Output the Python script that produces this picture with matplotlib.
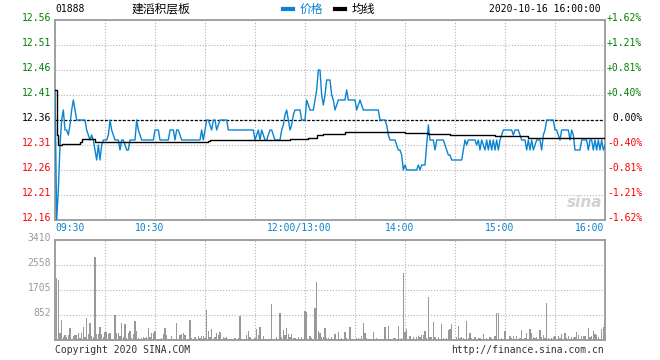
import matplotlib
matplotlib.use("Agg")
import numpy as np
import matplotlib.pyplot as plt
import matplotlib.transforms as mtransforms
from matplotlib.lines import Line2D

# --- data (minute index 0 = 09:30, 330 = 16:00, lunch break removed) ---
code = "01888"
name = "建滔积层板"
stamp = "2020-10-16 16:00:00"
prev_close = 12.36

price = [
    12.42, 12.16, 12.22, 12.31, 12.36, 12.38, 12.34, 12.34, 12.33, 12.35,
    12.38, 12.40, 12.38, 12.36, 12.36, 12.36, 12.36, 12.36, 12.36, 12.34,
    12.33, 12.32, 12.33, 12.32, 12.30, 12.28, 12.31, 12.28, 12.31, 12.32,
    12.32, 12.32, 12.33, 12.36, 12.34, 12.33, 12.32, 12.32, 12.32, 12.30,
    12.32, 12.32, 12.31, 12.30, 12.30, 12.32, 12.32, 12.32, 12.32, 12.36,
    12.34, 12.33, 12.32, 12.32, 12.32, 12.32, 12.32, 12.32, 12.32, 12.32,
    12.34, 12.34, 12.34, 12.32, 12.32, 12.32, 12.32, 12.32, 12.32, 12.34,
    12.34, 12.34, 12.32, 12.34, 12.34, 12.33, 12.32, 12.32, 12.32, 12.32,
    12.32, 12.32, 12.32, 12.32, 12.32, 12.32, 12.32, 12.32, 12.34, 12.32,
    12.34, 12.36, 12.36, 12.35, 12.34, 12.36, 12.36, 12.34, 12.35, 12.36,
    12.36, 12.36, 12.36, 12.36, 12.34, 12.34, 12.34, 12.34, 12.34, 12.34,
    12.34, 12.34, 12.34, 12.34, 12.34, 12.34, 12.34, 12.34, 12.34, 12.34,
    12.32, 12.33, 12.34, 12.32, 12.34, 12.33, 12.32, 12.32, 12.33, 12.34,
    12.34, 12.33, 12.32, 12.32, 12.32, 12.32, 12.34, 12.35, 12.37, 12.38,
    12.36, 12.34, 12.35, 12.37, 12.38, 12.38, 12.38, 12.38, 12.36, 12.36,
    12.36, 12.40, 12.39, 12.38, 12.38, 12.38, 12.40, 12.42, 12.46, 12.46,
    12.41, 12.39, 12.41, 12.44, 12.44, 12.44, 12.41, 12.40, 12.38, 12.39,
    12.40, 12.40, 12.40, 12.40, 12.40, 12.42, 12.40, 12.40, 12.40, 12.40,
    12.40, 12.38, 12.39, 12.40, 12.39, 12.38, 12.38, 12.38, 12.38, 12.38,
    12.38, 12.38, 12.38, 12.38, 12.38, 12.36, 12.36, 12.36, 12.36, 12.35,
    12.33, 12.32, 12.32, 12.32, 12.32, 12.31, 12.30, 12.30, 12.29, 12.26,
    12.27, 12.26, 12.26, 12.26, 12.26, 12.26, 12.26, 12.26, 12.27, 12.26,
    12.27, 12.27, 12.27, 12.31, 12.35, 12.32, 12.32, 12.32, 12.30, 12.32,
    12.32, 12.32, 12.32, 12.32, 12.31, 12.30, 12.29, 12.29, 12.28, 12.28,
    12.28, 12.28, 12.28, 12.28, 12.28, 12.30, 12.32, 12.31, 12.32, 12.32,
    12.32, 12.32, 12.32, 12.31, 12.32, 12.30, 12.32, 12.31, 12.30, 12.32,
    12.30, 12.32, 12.30, 12.32, 12.30, 12.32, 12.30, 12.32, 12.33, 12.34,
    12.34, 12.34, 12.34, 12.34, 12.34, 12.33, 12.34, 12.34, 12.34, 12.33,
    12.32, 12.32, 12.32, 12.30, 12.32, 12.30, 12.32, 12.30, 12.31, 12.32,
    12.32, 12.32, 12.30, 12.33, 12.34, 12.36, 12.36, 12.36, 12.36, 12.36,
    12.34, 12.34, 12.33, 12.32, 12.34, 12.34, 12.34, 12.34, 12.34, 12.32,
    12.34, 12.33, 12.30, 12.30, 12.30, 12.30, 12.32, 12.32, 12.32, 12.32,
    12.30, 12.32, 12.32, 12.30, 12.32, 12.30, 12.32, 12.30, 12.32, 12.30,
    12.31,
]

avg_minutes = [0, 1, 2, 4, 9, 15, 16, 23, 24, 48, 64, 92, 93, 140, 141, 151,
               152, 156, 157, 161, 174, 210, 211, 223, 224, 236, 237, 263, 264,
               283, 284, 330]
avg_values = [12.42, 12.33, 12.31, 12.312, 12.313, 12.317, 12.322, 12.322,
              12.316, 12.316, 12.317, 12.318, 12.320, 12.320, 12.322, 12.322,
              12.325, 12.325, 12.330, 12.333, 12.336, 12.335, 12.334, 12.334,
              12.332, 12.332, 12.330, 12.330, 12.328, 12.328, 12.325, 12.325]

volume = [
    0, 2125, 2046, 250, 682, 113, 170, 90, 170, 398,
    34, 147, 170, 180, 227, 57, 250, 455, 113, 761,
    204, 591, 150, 113, 2842, 204, 190, 455, 204, 90,
    284, 273, 204, 240, 45, 34, 841, 227, 227, 125,
    591, 90, 534, 57, 227, 307, 68, 204, 637, 307,
    80, 45, 80, 113, 57, 113, 398, 113, 227, 250,
    318, 20, 23, 23, 80, 193, 398, 170, 23, 23,
    136, 34, 23, 591, 45, 170, 193, 250, 170, 45,
    34, 682, 80, 34, 113, 45, 136, 80, 136, 136,
    60, 1023, 318, 113, 387, 45, 90, 227, 170, 284,
    45, 113, 80, 113, 40, 45, 34, 45, 57, 23,
    57, 818, 34, 20, 30, 170, 318, 113, 45, 20,
    57, 375, 170, 432, 40, 147, 34, 34, 23, 34,
    1228, 45, 34, 113, 45, 910, 113, 341, 170, 410,
    204, 113, 193, 80, 57, 34, 90, 45, 113, 34,
    989, 966, 45, 136, 80, 23, 1091, 1989, 307, 227,
    113, 113, 398, 80, 60, 40, 114, 40, 193, 30,
    273, 30, 57, 40, 273, 57, 30, 443, 40, 45,
    30, 57, 57, 30, 136, 580, 250, 57, 30, 45,
    30, 273, 30, 80, 45, 30, 34, 34, 443, 40,
    477, 30, 45, 80, 57, 30, 477, 30, 57, 2296,
    284, 364, 40, 136, 34, 114, 40, 91, 136, 91,
    170, 170, 296, 60, 1478, 91, 114, 625, 91, 40,
    91, 40, 557, 57, 30, 57, 341, 364, 545, 45,
    30, 91, 477, 57, 114, 68, 30, 659, 57, 250,
    57, 30, 91, 45, 80, 57, 30, 205, 45, 57,
    30, 91, 57, 30, 148, 921, 910, 30, 57, 30,
    318, 45, 30, 136, 57, 136, 30, 136, 45, 57,
    341, 30, 57, 227, 30, 375, 227, 91, 57, 114,
    30, 341, 91, 170, 57, 1273, 57, 45, 57, 91,
    136, 30, 136, 57, 193, 30, 227, 57, 148, 30,
    91, 57, 91, 273, 159, 30, 136, 136, 136, 30,
    420, 91, 136, 307, 193, 170, 114, 30, 375, 455,
    682,
]

price_ticks = [12.56, 12.51, 12.46, 12.41, 12.36, 12.31, 12.26, 12.21, 12.16]
pct_labels = ["+1.62%", "+1.21%", "+0.81%", "+0.40%", " 0.00%",
              "-0.40%", "-0.81%", "-1.21%", "-1.62%"]
vol_ticks = [3410, 2558, 1705, 852]
time_ticks = [0, 60, 150, 210, 270, 330]
time_labels = ["09:30", "10:30", "12:00/13:00", "14:00", "15:00", "16:00"]

# --- style ---
BLUE = "#0a84d0"
UP = "#008000"
DOWN = "#ff0000"
GRID = "#b4b4b4"
FRAME = "#9a9a9a"
MONO = "DejaVu Sans Mono"
CJK = ["Noto Sans CJK SC", "DejaVu Sans"]
plt.rcParams["font.family"] = CJK

W, H = 660, 360
fig = plt.figure(figsize=(W / 100, H / 100), dpi=100)


def box(x0, y0, x1, y1):
    return [x0 / W, 1 - y1 / H, (x1 - x0) / W, (y1 - y0) / H]


ax = fig.add_axes(box(55, 20, 605, 220))
axv = fig.add_axes(box(55, 240, 605, 340))

minutes = np.arange(len(price))

for a in (ax, axv):
    a.set_xlim(0, 330)
    a.set_xticks(np.arange(0, 331, 30))
    a.tick_params(length=0, labelbottom=False, labelleft=False)
    a.grid(True, color=GRID, linestyle=(0, (1, 1.6)), linewidth=0.8)
    a.set_axisbelow(True)
    for s in a.spines.values():
        s.set_color(FRAME)
        s.set_linewidth(1.3)

ax.set_ylim(12.16, 12.56)
ax.set_yticks(price_ticks)
ax.axhline(prev_close, color="black", linestyle=(0, (2.2, 1.4)), linewidth=0.9, zorder=2)
l_price, = ax.plot(minutes, price, color=BLUE, linewidth=1.0, zorder=3)
l_avg, = ax.plot(avg_minutes, avg_values, color="black", linewidth=1.0,
                 drawstyle="steps-post", zorder=4)

axv.set_ylim(0, 3410)
axv.set_yticks([0, 852.5, 1705, 2557.5, 3410])
axv.bar(minutes, volume, width=0.62, color="#999999", align="center",
        linewidth=0, antialiased=False, zorder=3)

# price / percentage labels
left_tr = mtransforms.offset_copy(ax.get_yaxis_transform(), fig=fig, x=-4, y=-1, units="dots")
right_tr = mtransforms.offset_copy(ax.get_yaxis_transform(), fig=fig, x=2, y=-1, units="dots")
for v, p in zip(price_ticks, pct_labels):
    c = UP if v > prev_close + 1e-9 else (DOWN if v < prev_close - 1e-9 else "black")
    ax.text(0, v, f"{v:.2f}", transform=left_tr, ha="right", va="baseline",
            color=c, fontsize=7, family=MONO)
    ax.text(1, v, p, transform=right_tr, ha="left", va="baseline",
            color=c, fontsize=7, family=MONO)

vleft_tr = mtransforms.offset_copy(axv.get_yaxis_transform(), fig=fig, x=-4, y=-1, units="dots")
for v in vol_ticks:
    axv.text(0, v, str(v), transform=vleft_tr, ha="right", va="baseline",
             color="#999999", fontsize=7, family=MONO)

# time labels under price panel
for t, lab in zip(time_ticks, time_labels):
    if t == 0:
        ha, dx = "left", 0
    elif t == 330:
        ha, dx = "right", -1
    else:
        ha, dx = "center", -5.5
    tr = mtransforms.offset_copy(ax.get_xaxis_transform(), fig=fig, x=dx, y=-3, units="dots")
    ax.text(t, 0, lab, transform=tr, ha=ha, va="top", color=BLUE, fontsize=7, family=MONO)

# header
fig.text(55 / W, 1 - 9 / H, code, ha="left", va="center", fontsize=7, family=MONO)
fig.text(160.5 / W, 1 - 9 / H, name, ha="center", va="center", fontsize=8.5, family=CJK)
fig.text(601 / W, 1 - 9 / H, stamp, ha="right", va="center", fontsize=7, family=MONO)
leg = fig.legend([Line2D([], [], color=BLUE), Line2D([], [], color="black")],
                 ["价格", "均线"], loc="center left", bbox_to_anchor=(283 / W, 1 - 9.5 / H),
                 ncol=2, frameon=False, fontsize=8.5, handlelength=0.85,
                 handletextpad=0.55, columnspacing=1.0, borderpad=0, borderaxespad=0)
for ln in leg.get_lines():
    ln.set_linewidth(3)
leg.get_texts()[0].set_color(BLUE)

# watermark and footer
ax.text(0.996, 0.05, "sina", transform=ax.transAxes, ha="right", va="bottom",
        fontsize=11, style="italic", weight="bold", color="#d2d2d2", family="DejaVu Sans")
fig.text(55 / W, 1 - 350 / H, "Copyright 2020 SINA.COM", ha="left", va="center",
         fontsize=7, family=MONO, color="#333333")
fig.text(604 / W, 1 - 350 / H, "http://finance.sina.com.cn", ha="right", va="center",
         fontsize=7, family=MONO, color="#333333")

fig.savefig("out.png", dpi=100)
